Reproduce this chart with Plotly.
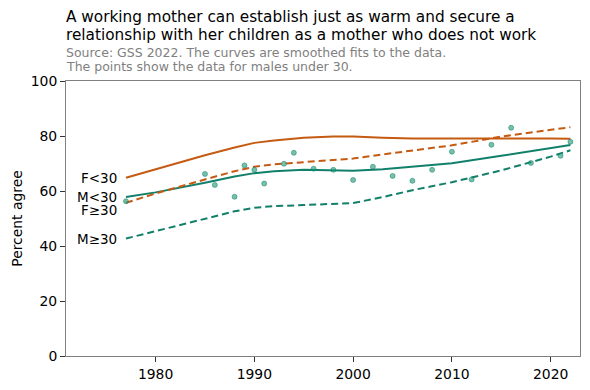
import plotly.graph_objects as go

# Smoothed curves
curve_years = [1977, 1980, 1985, 1988, 1990, 1992, 1995, 1998, 2000, 2003, 2006, 2010, 2015, 2020, 2022]
f_under30 = [64.8, 67.9, 73.0, 75.8, 77.5, 78.4, 79.4, 79.8, 79.8, 79.4, 79.1, 79.1, 79.2, 79.1, 79.0]
m_under30 = [57.8, 59.5, 63.0, 65.3, 66.5, 67.2, 67.7, 67.6, 67.4, 67.9, 68.8, 70.1, 72.8, 75.6, 76.7]
f_over30 = [55.7, 59.1, 64.2, 67.2, 68.8, 69.7, 70.5, 71.2, 71.8, 73.3, 74.7, 76.6, 79.8, 82.3, 83.2]
m_over30 = [42.7, 45.4, 49.9, 52.6, 53.9, 54.5, 54.9, 55.3, 55.6, 57.8, 60.3, 63.2, 67.5, 72.5, 74.8]

# Data points for males under 30
point_years = [1977, 1985, 1986, 1988, 1989, 1990, 1991, 1993, 1994, 1996, 1998, 2000,
               2002, 2004, 2006, 2008, 2010, 2012, 2014, 2016, 2018, 2021, 2022]
point_values = [56.3, 66.2, 62.2, 57.9, 69.3, 67.7, 62.7, 69.9, 73.9, 68.1, 67.7, 64.0,
                68.8, 65.5, 63.7, 67.7, 74.3, 64.2, 76.8, 83.0, 70.2, 72.8, 77.9]

labels = ["F<30", "M<30", "F≥30", "M≥30"]
label_y = [64.8, 57.9, 53.1, 42.5]

title_lines = ["A working mother can establish just as warm and secure a",
               "relationship with her children as a mother who does not work"]
subtitle_lines = ["Source: GSS 2022. The curves are smoothed fits to the data.",
                  "The points show the data for males under 30."]

ORANGE = "#c55a11"
GREEN = "#11806a"
FONT = "DejaVu Sans"
FS = 13.9

fig = go.Figure()
fig.add_trace(go.Scatter(x=curve_years, y=f_under30, mode="lines",
                         line=dict(color=ORANGE, width=2), name="F<30"))
fig.add_trace(go.Scatter(x=curve_years, y=m_under30, mode="lines",
                         line=dict(color=GREEN, width=2), name="M<30"))
fig.add_trace(go.Scatter(x=curve_years, y=f_over30, mode="lines",
                         line=dict(color=ORANGE, width=2, dash="7px,4px"), name="F≥30"))
fig.add_trace(go.Scatter(x=curve_years, y=m_over30, mode="lines",
                         line=dict(color=GREEN, width=2, dash="7px,4px"), name="M≥30"))
fig.add_trace(go.Scatter(x=point_years, y=point_values, mode="markers",
                         marker=dict(size=5, color="rgba(27,150,115,0.6)",
                                     line=dict(width=1, color="rgba(17,128,106,0.5)")),
                         name="M<30 data"))

annotations = []
for lab, yv in zip(labels, label_y):
    annotations.append(dict(x=1976.3, y=yv, xref="x", yref="y", text=lab, showarrow=False,
                            xanchor="right", yanchor="middle",
                            font=dict(family=FONT, size=13.5, color="black")))

for line, ypix in zip(title_lines, [17, 35]):
    annotations.append(dict(x=0, y=(356 - ypix) / 275, xref="paper", yref="paper",
                            xanchor="left", yanchor="middle", showarrow=False, text=line,
                            xshift=-2,
                            font=dict(family=FONT, size=15.3, color="black")))
for line, ypix in zip(subtitle_lines, [52, 66]):
    annotations.append(dict(x=0, y=(356 - ypix) / 275, xref="paper", yref="paper",
                            xanchor="left", yanchor="middle", showarrow=False, text=line,
                            xshift=-2,
                            font=dict(family=FONT, size=12.5, color="#808080")))

fig.update_layout(
    width=590, height=390,
    margin=dict(l=66, r=10, t=81, b=34),
    plot_bgcolor="white", paper_bgcolor="white",
    showlegend=False,
    font=dict(family=FONT, size=FS, color="black"),
    annotations=annotations,
    xaxis=dict(range=[1970.93, 2022.97], tickvals=[1980, 1990, 2000, 2010, 2020],
               automargin=False,
               showgrid=False, zeroline=False, showline=True, mirror=True,
               linecolor="#808080", linewidth=1, ticks="outside", ticklen=5,
               tickcolor="#333333", tickfont=dict(family=FONT, size=FS, color="black")),
    yaxis=dict(range=[0, 100], tickvals=[0, 20, 40, 60, 80, 100],
               automargin=False,
               showgrid=False, zeroline=False, showline=True, mirror=True,
               linecolor="#808080", linewidth=1, ticks="outside", ticklen=5,
               tickcolor="#333333", tickfont=dict(family=FONT, size=FS, color="black"),
               title=dict(text="Percent agree", font=dict(family=FONT, size=FS, color="black"),
                          standoff=4)),
)

fig.write_html("out.html", config={"displayModeBar": False},
               post_script="document.body.style.margin='0';")
